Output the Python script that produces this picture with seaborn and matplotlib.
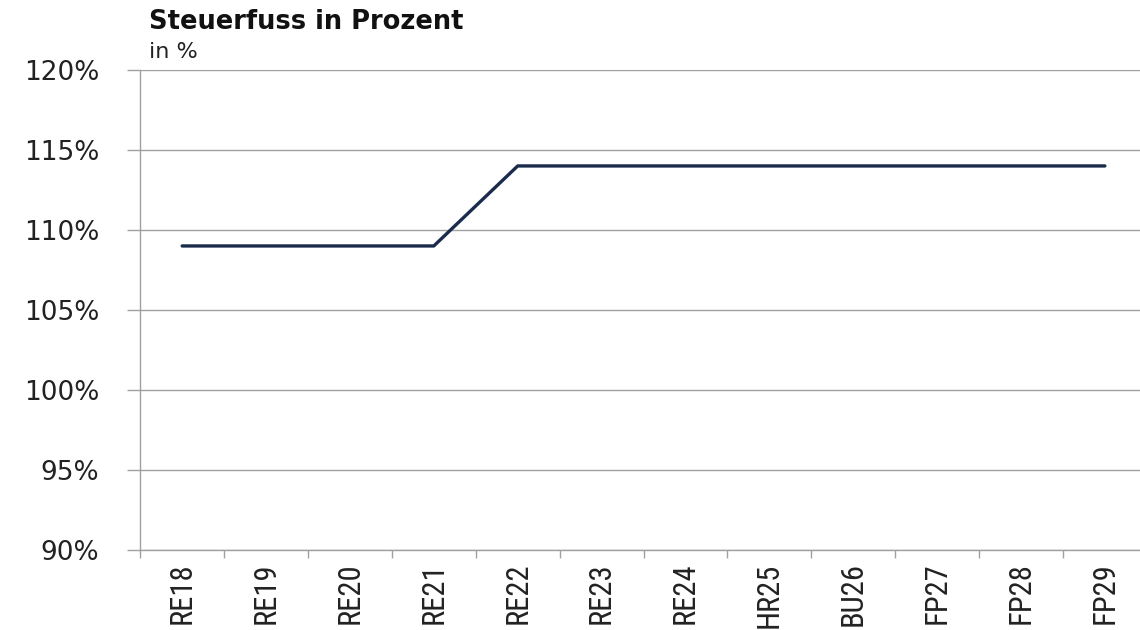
import numpy as np
import pandas as pd
import matplotlib.pyplot as plt
import seaborn as sns
from matplotlib.ticker import FixedLocator, PercentFormatter

# Steuerfuss data
categories = ['RE18', 'RE19', 'RE20', 'RE21', 'RE22', 'RE23',
              'RE24', 'HR25', 'BU26', 'FP27', 'FP28', 'FP29']
steuerfuss = [109, 109, 109, 109, 114, 114, 114, 114, 114, 114, 114, 114]

df = pd.DataFrame({'pos': range(len(categories)), 'wert': steuerfuss})

sns.set_style("white")
plt.rcParams['font.family'] = ['DejaVu Sans']

fig = plt.figure(figsize=(11.4, 6.3), dpi=100)
ax = fig.add_axes([0.123, 0.127, 0.883, 0.762])

sns.lineplot(data=df, x='pos', y='wert', color='#1a2b4c', linewidth=2.4, ax=ax)

ax.set_xlim(-0.5, len(categories) - 0.5)
ax.set_ylim(90, 120)
ax.set_yticks(np.arange(90, 121, 5))
ax.yaxis.set_major_formatter(PercentFormatter(decimals=0))
ax.grid(axis='y', color='#a0a0a0', linewidth=1)
ax.set_axisbelow(True)

ax.set_xticks(range(len(categories)))
ax.set_xticklabels(categories, rotation=90, fontsize=22, fontstretch='condensed',
                   family=['Roboto Condensed', 'DejaVu Sans'], color='#222222')
ax.xaxis.set_minor_locator(FixedLocator(np.arange(-0.5, len(categories), 1)))
ax.tick_params(axis='x', which='major', length=0, pad=9, bottom=True)
ax.tick_params(axis='x', which='minor', length=6, color='#a0a0a0', width=1, bottom=True)
ax.tick_params(axis='y', length=9.4, color='#a0a0a0', width=1, labelsize=19,
               pad=20, left=True, labelcolor='#222222')

for s in ['top', 'right']:
    ax.spines[s].set_visible(False)
for s in ['left', 'bottom']:
    ax.spines[s].set_color('#a0a0a0')
    ax.spines[s].set_linewidth(1)

ax.set_xlabel('')
ax.set_ylabel('')

fig.text(0.131, 0.965, 'Steuerfuss in Prozent', fontsize=18.5, fontweight='heavy',
         va='center', ha='left', color='#111111')
fig.text(0.131, 0.917, 'in %', fontsize=16, va='center', ha='left', color='#222222')

plt.savefig('out.png')
